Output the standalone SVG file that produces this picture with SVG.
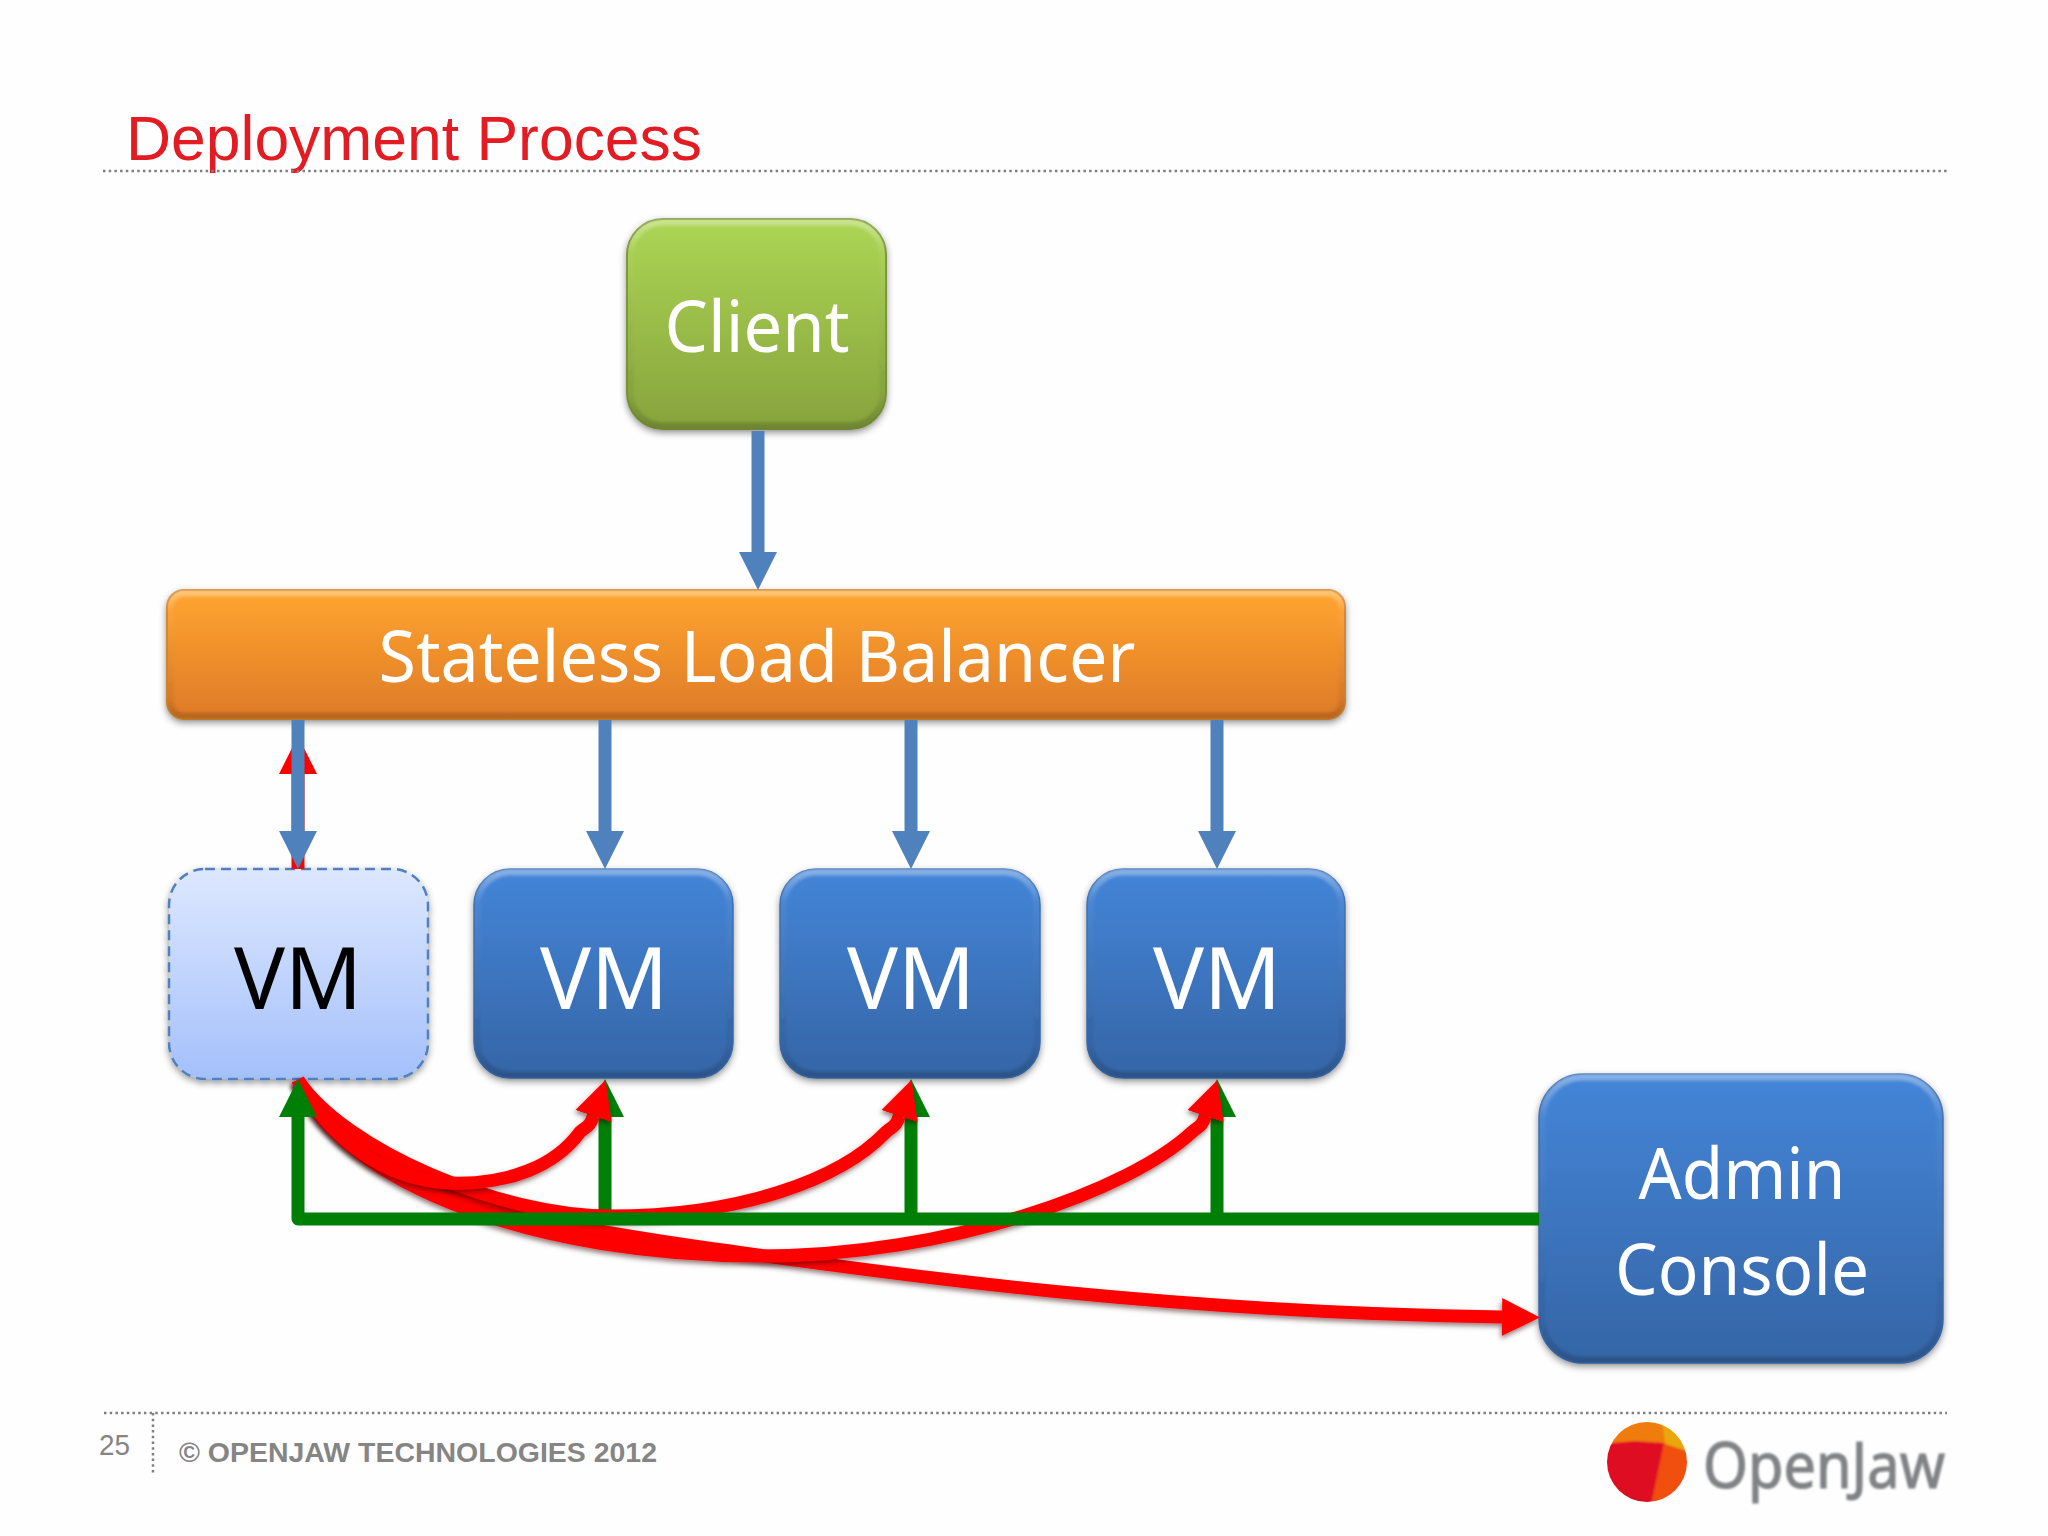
<svg xmlns="http://www.w3.org/2000/svg" width="2048" height="1536" viewBox="0 0 2048 1536">
<style>
.node{font-family:"Noto Sans","Open Sans","DejaVu Sans",sans-serif;font-size:72px;fill:#fff;text-anchor:middle}
.vm{font-size:85px}
.dot{fill:none;stroke:#808080;stroke-width:2.5;stroke-dasharray:2.5 3.2}
.blue{fill:none;stroke:#4f81bd;stroke-width:13}
.red{fill:none;stroke:#f00;stroke-width:13;marker-end:url(#hr);filter:url(#rs)}
.grn{fill:none;stroke:#007f07;stroke-width:13;stroke-linejoin:round}
.bev{fill:none;stroke:url(#bevel);stroke-width:7;filter:url(#soft)}
.ft{font-family:"Liberation Sans",Arial,sans-serif;fill:#858585}
</style>
<defs>
<linearGradient id="gb" x1="0" y1="0" x2="0" y2="1"><stop offset="0" stop-color="#4485d8"/><stop offset="1" stop-color="#3565a6"/></linearGradient>
<linearGradient id="gg" x1="0" y1="0" x2="0" y2="1"><stop offset="0" stop-color="#acd655"/><stop offset="1" stop-color="#87a33c"/></linearGradient>
<linearGradient id="go" x1="0" y1="0" x2="0" y2="1"><stop offset="0" stop-color="#ffa52f"/><stop offset="1" stop-color="#de7a28"/></linearGradient>
<linearGradient id="gl" x1="0" y1="0" x2="0" y2="1"><stop offset="0" stop-color="#dde8fe"/><stop offset="1" stop-color="#a4c0fb"/></linearGradient>
<linearGradient id="bevel" x1="0" y1="0" x2="0" y2="1"><stop offset="0" stop-color="#fff" stop-opacity=".35"/><stop offset=".15" stop-color="#fff" stop-opacity=".05"/><stop offset=".85" stop-color="#000" stop-opacity=".05"/><stop offset="1" stop-color="#000" stop-opacity=".18"/></linearGradient>
<filter id="sh" x="-10%" y="-10%" width="120%" height="125%"><feDropShadow dx="0" dy="3" stdDeviation="3.5" flood-color="#000" flood-opacity=".4"/></filter>
<filter id="rs" x="-10%" y="-20%" width="120%" height="140%"><feDropShadow dx="-1" dy="3" stdDeviation="2.5" flood-color="#300" flood-opacity=".5"/></filter>
<filter id="soft"><feGaussianBlur stdDeviation="1.5"/></filter>
<filter id="logo" x="-5%" y="-5%" width="110%" height="110%"><feGaussianBlur stdDeviation="1.1"/></filter>
<clipPath id="ball"><circle cx="1647" cy="1462" r="40"/></clipPath>
<marker id="hb" markerUnits="userSpaceOnUse" markerWidth="40" markerHeight="40" refX="0" refY="19" orient="auto"><path d="M0 0L38 19L0 38Z" fill="#4f81bd"/></marker>
<marker id="hr" markerUnits="userSpaceOnUse" markerWidth="40" markerHeight="40" refX="0" refY="19" orient="auto"><path d="M0 0L38 19L0 38Z" fill="#f00"/></marker>
<marker id="hg" markerUnits="userSpaceOnUse" markerWidth="40" markerHeight="40" refX="0" refY="19" orient="auto"><path d="M0 0L38 19L0 38Z" fill="#007f07"/></marker>
</defs>
<rect width="2048" height="1536" fill="#fefefe"/>
<text id="title" x="126" y="160" font-family="Liberation Sans,Arial,sans-serif" font-size="63" fill="#e31b23" textLength="576" lengthAdjust="spacingAndGlyphs">Deployment Process</text>
<path class="dot" d="M103 171H1947"/>
<path class="dot" d="M104 1413H1947"/>
<path class="dot" d="M153 1413V1474"/>
<text id="page" class="ft" x="99" y="1455" font-size="29" textLength="31" lengthAdjust="spacingAndGlyphs">25</text>
<text id="copyright" class="ft" x="179" y="1462" font-size="27" font-weight="bold" textLength="478" lengthAdjust="spacingAndGlyphs">© OPENJAW TECHNOLOGIES 2012</text>
<g id="openjaw-logo">
<g clip-path="url(#ball)" filter="url(#logo)">
<rect x="1600" y="1415" width="90" height="95" fill="#ef7b10"/>
<path d="M1662 1420L1690 1420L1690 1470L1665 1443Z" fill="#e9a70f"/>
<path d="M1662 1443L1690 1452L1690 1510L1648 1510Z" fill="#f0500f"/>
<path d="M1600 1444L1635 1441L1664 1443L1650 1510L1600 1510Z" fill="#df0f22"/>
<path d="M1600 1480L1630 1498L1648 1503L1648 1510L1600 1510Z" fill="#b01a1a"/>
</g>
<text x="1703" y="1488" font-family="Noto Sans,Open Sans,sans-serif" font-size="64" fill="#808285" stroke="#808285" stroke-width="1.2" textLength="242" lengthAdjust="spacingAndGlyphs" filter="url(#logo)">OpenJaw</text>
</g>
<g id="client"><rect x="627" y="219" width="259" height="210" rx="36" fill="url(#gg)" stroke="#7d9638" stroke-width="2" filter="url(#sh)"/><rect class="bev" x="630" y="222" width="253" height="204" rx="33"/><text class="node" x="757" y="352" textLength="185" lengthAdjust="spacingAndGlyphs">Client</text></g>
<g id="load-balancer"><rect x="167" y="590" width="1178" height="129" rx="17" fill="url(#go)" stroke="#d5862c" stroke-width="2" filter="url(#sh)"/><rect class="bev" x="170" y="593" width="1172" height="123" rx="14"/><text class="node" x="757" y="682" textLength="757" lengthAdjust="spacingAndGlyphs">Stateless Load Balancer</text></g>
<g id="vm-1"><rect x="169" y="869" width="259" height="210" rx="36" fill="url(#gl)" stroke="#4f81bd" stroke-width="2.5" stroke-dasharray="10 6" filter="url(#sh)"/><text class="node vm" x="298" y="1009" style="fill:#000">VM</text></g>
<g id="vm-2"><rect x="474" y="869" width="259" height="209" rx="36" fill="url(#gb)" stroke="#3a6cae" stroke-width="1.5" filter="url(#sh)"/><rect class="bev" x="477" y="872" width="253" height="203" rx="33"/><text class="node vm" x="604" y="1009">VM</text></g>
<g id="vm-3"><rect x="780" y="869" width="260" height="209" rx="36" fill="url(#gb)" stroke="#3a6cae" stroke-width="1.5" filter="url(#sh)"/><rect class="bev" x="783" y="872" width="254" height="203" rx="33"/><text class="node vm" x="911" y="1009">VM</text></g>
<g id="vm-4"><rect x="1087" y="869" width="258" height="209" rx="36" fill="url(#gb)" stroke="#3a6cae" stroke-width="1.5" filter="url(#sh)"/><rect class="bev" x="1090" y="872" width="252" height="203" rx="33"/><text class="node vm" x="1217" y="1009">VM</text></g>
<g id="admin-console"><rect x="1539" y="1074" width="404" height="289" rx="44" fill="url(#gb)" stroke="#3a6cae" stroke-width="1.5" filter="url(#sh)"/><rect class="bev" x="1542" y="1077" width="398" height="283" rx="41"/><text class="node" x="1742" y="1199" textLength="207" lengthAdjust="spacingAndGlyphs">Admin</text><text class="node" x="1742" y="1295" textLength="254" lengthAdjust="spacingAndGlyphs">Console</text></g>
<g id="connectors">
<path d="M298 869V774" fill="none" stroke="#f00" stroke-width="13" marker-end="url(#hr)"/>
<path class="blue" d="M758 431V552" marker-end="url(#hb)"/>
<path class="blue" d="M298 720V831" marker-end="url(#hb)"/>
<path class="blue" d="M605 720V831" marker-end="url(#hb)"/>
<path class="blue" d="M911 720V831" marker-end="url(#hb)"/>
<path class="blue" d="M1217 720V831" marker-end="url(#hb)"/>
<path class="grn" d="M605 1219V1117" marker-end="url(#hg)"/>
<path class="grn" d="M911 1219V1117" marker-end="url(#hg)"/>
<path class="grn" d="M1217 1219V1117" marker-end="url(#hg)"/>
<path class="red" d="M298 1080C345 1187 520 1222 722 1250C880 1272 1150 1312 1502 1317"/>
<path class="red" d="M298 1080C345 1187 540 1256 760 1256C950 1256 1130 1190 1192 1132C1197 1127 1201.500 1128 1205.500 1116"/>
<path class="red" d="M298 1080C345 1150 500 1216 610 1216C740 1216 840 1180 886 1132C891 1127 895.500 1128 899.500 1116"/>
<path class="red" d="M298 1080C330 1140 385 1180 450 1183C510 1185 556 1165 580 1132C585 1127 589.500 1128 593.500 1116"/>
<path class="grn" d="M1539 1219H298V1117" marker-end="url(#hg)"/>
</g>
</svg>
